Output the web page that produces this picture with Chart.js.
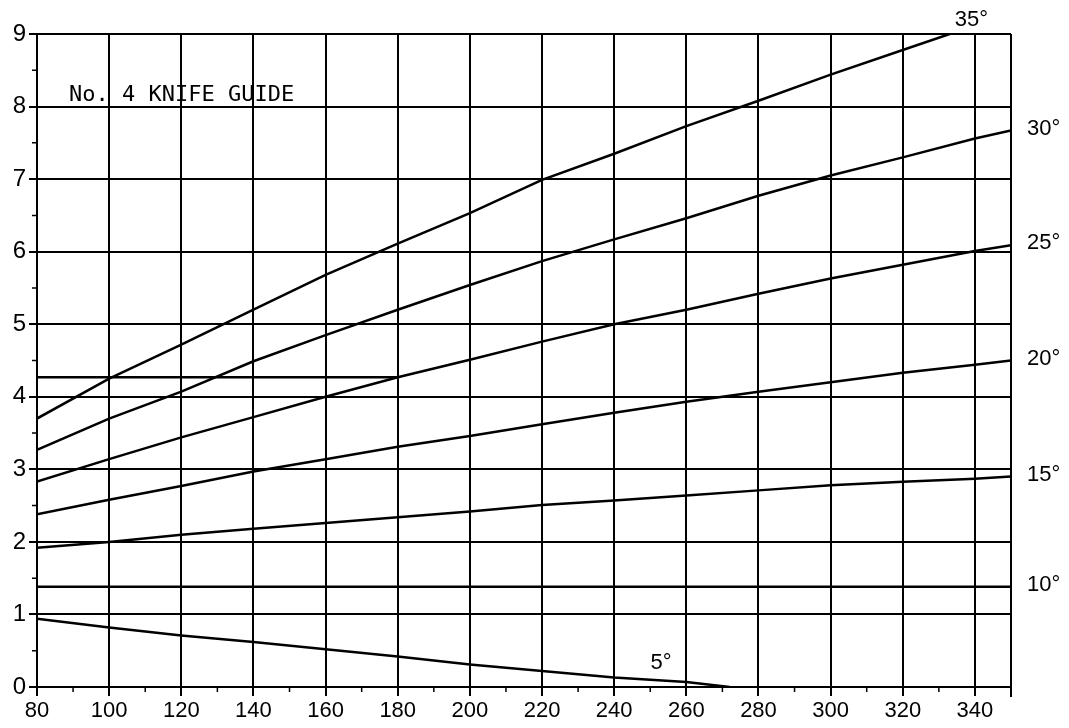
<!DOCTYPE html>
<html>
<head>
<meta charset="utf-8">
<script src="https://cdn.jsdelivr.net/npm/chart.js@4.4.0/dist/chart.umd.min.js"></script>
<style>
  html, body { margin: 0; padding: 0; background: #fff; }
  canvas { display: block; }
</style>
</head>
<body>
<canvas id="c" width="1069" height="728"></canvas>
<script>
// ---- data ----
const xTickValues = [80, 100, 120, 140, 160, 180, 200, 220, 240, 260, 280, 300, 320, 340];
const yTickValues = [0, 1, 2, 3, 4, 5, 6, 7, 8, 9];
const xMin = 80, xMax = 350, yMin = 0, yMax = 9;

const xsFull = [80, 100, 120, 140, 160, 180, 200, 220, 240, 260, 280, 300, 320, 340, 350];

const x35 = [80, 100, 120, 140, 160, 180, 200, 220, 240, 260, 280, 300, 320, 333];
const deg35 = [3.70, 4.25, 4.72, 5.20, 5.68, 6.11, 6.53, 6.99, 7.35, 7.73, 8.08, 8.44, 8.78, 9.00];

const deg30 = [3.27, 3.70, 4.07, 4.49, 4.85, 5.20, 5.54, 5.87, 6.17, 6.46, 6.77, 7.05, 7.30, 7.56, 7.67];
const deg25 = [2.83, 3.14, 3.44, 3.72, 4.00, 4.27, 4.51, 4.76, 5.00, 5.20, 5.42, 5.63, 5.82, 6.01, 6.09];
const deg20 = [2.38, 2.58, 2.77, 2.97, 3.14, 3.31, 3.46, 3.62, 3.78, 3.93, 4.07, 4.20, 4.33, 4.44, 4.50];
const deg15 = [1.92, 2.00, 2.10, 2.18, 2.26, 2.34, 2.42, 2.51, 2.57, 2.64, 2.71, 2.78, 2.83, 2.87, 2.90];

const x10 = [80, 350];
const deg10 = [1.38, 1.38];

const x5 = [80, 100, 120, 140, 160, 180, 200, 220, 240, 260, 272];
const deg5 = [0.94, 0.82, 0.71, 0.62, 0.52, 0.42, 0.31, 0.22, 0.13, 0.07, 0.00];

const xRef = [80, 180];
const refLine = [4.27, 4.27];

const seriesLabels = ['35°', '30°', '25°', '20°', '15°', '10°', '5°'];
const titleText = 'No. 4 KNIFE GUIDE';

// ---- build datasets ----
function pts(xs, ys) { return xs.map((x, i) => ({ x: x, y: ys[i] })); }
function ds(label, xs, ys) {
  return {
    label: label,
    data: pts(xs, ys),
    showLine: true,
    borderColor: '#000',
    backgroundColor: '#000',
    borderWidth: 2.5,
    pointRadius: 0,
    tension: 0,
    fill: false
  };
}
const datasets = [
  ds(seriesLabels[0], x35, deg35),
  ds(seriesLabels[1], xsFull, deg30),
  ds(seriesLabels[2], xsFull, deg25),
  ds(seriesLabels[3], xsFull, deg20),
  ds(seriesLabels[4], xsFull, deg15),
  ds(seriesLabels[5], x10, deg10),
  ds(seriesLabels[6], x5, deg5),
  ds('ref', xRef, refLine)
];

// ---- annotation plugin (positions via scales) ----
const annotate = {
  id: 'annotate',
  afterDraw(chart) {
    const ctx = chart.ctx;
    const xs = chart.scales.x, ys = chart.scales.y;
    const area = chart.chartArea;
    ctx.save();
    ctx.fillStyle = '#000';
    ctx.strokeStyle = '#000';

    // minor ticks on x axis (below) and y axis (left)
    ctx.lineWidth = 1.5;
    ctx.beginPath();
    for (let v = xMin + 10; v < xMax; v += 20) {
      const px = xs.getPixelForValue(v);
      ctx.moveTo(px, area.bottom);
      ctx.lineTo(px, area.bottom + 5);
    }
    for (let v = yMin + 0.5; v < yMax; v += 1) {
      const py = ys.getPixelForValue(v);
      ctx.moveTo(area.left, py);
      ctx.lineTo(area.left - 5, py);
    }
    ctx.stroke();

    // title
    ctx.font = '22px "DejaVu Sans Mono"';
    ctx.textAlign = 'left';
    ctx.textBaseline = 'middle';
    ctx.fillText(titleText, xs.getPixelForValue(88.9), ys.getPixelForValue(8.15));

    // right-side angle labels at line ends
    ctx.font = '22px "Liberation Sans"';
    const ends = [deg30, deg25, deg20, deg15, deg10];
    ends.forEach((arr, i) => {
      const yv = arr[arr.length - 1];
      ctx.fillText(seriesLabels[i + 1], area.right + 16, ys.getPixelForValue(yv) - 2);
    });

    // 35° label above the top
    ctx.textAlign = 'center';
    ctx.fillText(seriesLabels[0], xs.getPixelForValue(339), ys.getPixelForValue(yMax) - 14);

    // 5° label near its line
    ctx.fillText(seriesLabels[6], xs.getPixelForValue(253), ys.getPixelForValue(0.33));

    // right frame
    ctx.lineWidth = 2;
    ctx.beginPath();
    ctx.moveTo(area.right, area.top);
    ctx.lineTo(area.right, area.bottom + 10);
    ctx.stroke();
    ctx.restore();
  }
};

new Chart(document.getElementById('c'), {
  type: 'scatter',
  data: { datasets: datasets },
  options: {
    responsive: false,
    animation: false,
    devicePixelRatio: 1,
    layout: { padding: { top: 34, right: 58, left: 0, bottom: 0 } },
    plugins: { legend: { display: false }, tooltip: { enabled: false }, title: { display: false } },
    scales: {
      x: {
        type: 'linear',
        min: xMin,
        max: xMax,
        afterBuildTicks: (scale) => { scale.ticks = xTickValues.concat([xMax]).map(v => ({ value: v })); },
        afterFit: (scale) => { scale.height = 41; },
        ticks: {
          autoSkip: false,
          maxRotation: 0,
          color: '#000',
          padding: 2,
          font: { family: 'Liberation Sans', size: 22 },
          callback: (v) => (xTickValues.includes(v) ? String(v) : '')
        },
        grid: { color: '#000', lineWidth: 2, tickLength: 9, tickColor: '#000', tickWidth: 2, drawTicks: true },
        border: { display: true, color: '#000', width: 2 }
      },
      y: {
        type: 'linear',
        min: yMin,
        max: yMax,
        afterBuildTicks: (scale) => { scale.ticks = yTickValues.map(v => ({ value: v })); },
        afterFit: (scale) => { scale.width = 37; },
        ticks: {
          color: '#000',
          padding: 3,
          font: { family: 'Liberation Sans', size: 24 }
        },
        grid: { color: '#000', lineWidth: 2, tickLength: 8, tickColor: '#000', tickWidth: 2, drawTicks: true },
        border: { display: true, color: '#000', width: 2 }
      }
    }
  },
  plugins: [annotate]
});
</script>
</body>
</html>
